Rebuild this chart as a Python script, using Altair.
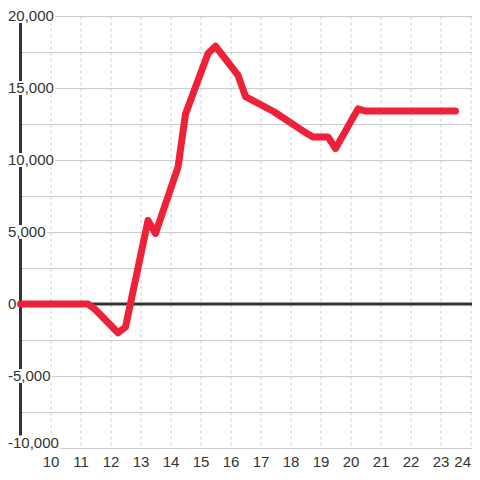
import altair as alt
import pandas as pd

# ---- data ----
hours = [9, 11.25, 11.5, 12.25, 12.5, 13.25, 13.5, 14.25, 14.5, 15.25, 15.5,
         16.25, 16.5, 17.45, 18.5, 18.75, 19.25, 19.5, 20.25, 20.5, 23.5]
values = [0, 0, -400, -2000, -1600, 5800, 4900, 9500, 13200, 17400, 17900,
          15900, 14400, 13350, 11900, 11600, 11600, 10800, 13550, 13400, 13400]

x_ticks = list(range(10, 25))
y_grid = list(range(-10000, 20001, 2500))
y_labels = [20000, 15000, 10000, 5000, 0, -5000, -10000]

X_MIN, X_MAX = 9, 24.05
Y_MIN, Y_MAX = -10000, 20000
W, H = 451.5, 432
PX_X = W / (X_MAX - X_MIN)
PX_Y = H / (Y_MAX - Y_MIN)

FONT = "Liberation Sans"
TXT = "#333333"
RED = "#ee2139"
GRID = "#cccccc"

line_df = pd.DataFrame({"hour": hours, "value": values})

# label table (text + a white background box behind each label)
char_w = {",": 4.17, "-": 5.0}
rows = []
for v in y_labels:
    t = f"{v:,}"
    wpx = sum(char_w.get(c, 8.34) for c in t)
    off = -12.5
    yc = v + (5.5 / PX_Y if v == Y_MIN else 0)
    rows.append({
        "label": t,
        "xl": X_MIN + off / PX_X,
        "x0": X_MIN + (off - 1) / PX_X,
        "x1": X_MIN + (off + wpx + 1.5) / PX_X,
        "yc": yc,
        "y0": yc - 7 / PX_Y,
        "y1": yc + 7 / PX_Y,
    })
lab_df = pd.DataFrame(rows)

xs = alt.Scale(domain=[X_MIN, X_MAX], nice=False, zero=False)
ys = alt.Scale(domain=[Y_MIN, Y_MAX], nice=False, zero=False)

x_axis = alt.Axis(
    values=x_ticks, grid=True, gridDash=[3, 3], gridColor=GRID,
    domain=False, ticks=False, tickSize=0, labelPadding=6,
    labelFontSize=15, labelFont=FONT, labelColor=TXT, title=None,
    labelFlush=3)
y_axis = alt.Axis(
    values=y_grid, grid=True, gridColor=GRID, labels=False,
    ticks=False, domain=False, title=None)

line = alt.Chart(line_df).mark_line(
    color=RED, strokeWidth=7, strokeCap="round", strokeJoin="round"
).encode(
    x=alt.X("hour:Q", scale=xs, axis=x_axis),
    y=alt.Y("value:Q", scale=ys, axis=y_axis),
)

axis_df = pd.DataFrame({"x": [X_MIN], "y": [Y_MIN], "y2": [Y_MAX]})
axis_rule = alt.Chart(axis_df).mark_rule(color=TXT, strokeWidth=3).encode(
    x=alt.X("x:Q", scale=xs, axis=x_axis),
    y=alt.Y("y:Q", scale=ys, axis=y_axis),
    y2="y2:Q",
)

zero_df = pd.DataFrame({"x": [X_MIN], "x2": [X_MAX], "y": [0]})
zero_rule = alt.Chart(zero_df).mark_rule(color=TXT, strokeWidth=3).encode(
    x=alt.X("x:Q", scale=xs, axis=x_axis),
    x2="x2:Q",
    y=alt.Y("y:Q", scale=ys, axis=y_axis),
)

label_bg = alt.Chart(lab_df).mark_rect(color="white").encode(
    x=alt.X("x0:Q", scale=xs, axis=x_axis),
    x2="x1:Q",
    y=alt.Y("y0:Q", scale=ys, axis=y_axis),
    y2="y1:Q",
)

label_txt = alt.Chart(lab_df).mark_text(
    align="left", baseline="middle", font=FONT, fontSize=15, color=TXT
).encode(
    x=alt.X("xl:Q", scale=xs, axis=x_axis),
    y=alt.Y("yc:Q", scale=ys, axis=y_axis),
    text="label:N",
)

chart = alt.layer(axis_rule, zero_rule, label_bg, label_txt, line).properties(
    width=W, height=H,
    autosize=alt.AutoSizeParams(type="none"),
    padding={"left": 12.5, "top": 8, "right": 0, "bottom": 21},
).configure_view(stroke=None)

chart.save("out.html", embed_options={"renderer": "svg", "actions": False})
